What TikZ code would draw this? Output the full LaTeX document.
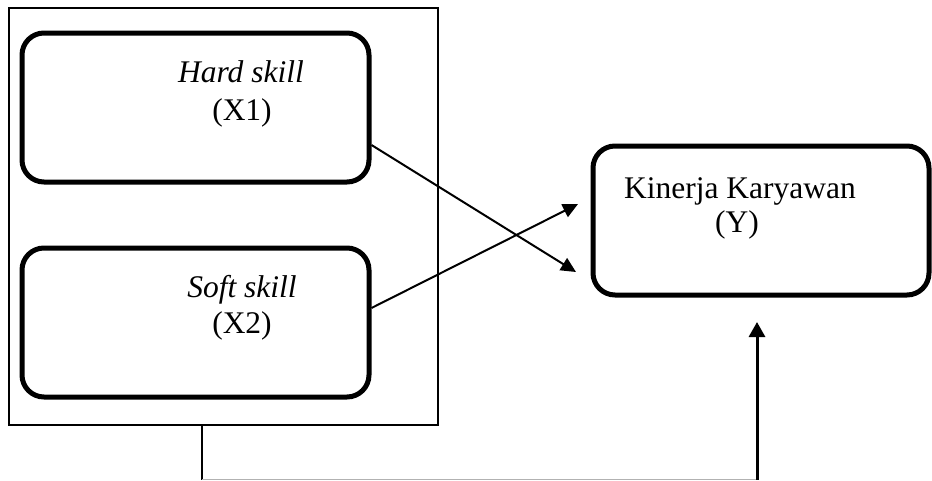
\documentclass[tikz,border=0pt]{standalone}
\usepackage{fontspec}
\setmainfont{Liberation Serif}
\usetikzlibrary{arrows.meta}
\begin{document}
\begin{tikzpicture}[x=1pt,y=-1pt,
  varbox/.style={draw,line width=5pt,rounded corners=22pt,minimum width=347pt,minimum height=149pt,inner sep=0pt},
  lbl/.style={inner sep=0pt,anchor=base,font=\fontsize{31.5}{37}\selectfont},
  link/.style={line width=2pt,-{Triangle[length=15pt,width=14pt]}}]
  \useasboundingbox (0,0) rectangle (932,480);
  % frame around both independent variables
  \node[draw,line width=1.5pt,minimum width=429pt,minimum height=417pt,inner sep=0pt,outer sep=0pt] (frame) at (223.5,216.5) {};
  % variable boxes
  \node[varbox] (x1) at (195.5,107.5) {};
  \node[varbox] (x2) at (195.5,322.5) {};
  \node[varbox,minimum width=336pt] (y) at (761,220.5) {};
  % labels
  \node[lbl] (x1a) at (241,82) {\itshape Hard skill};
  \node[lbl] (x1b) at (242,120) {(X1)};
  \node[lbl] (x2a) at (242,297) {\itshape Soft skill};
  \node[lbl] (x2b) at (242,333) {(X2)};
  \node[lbl] (ya) at (740,198) {Kinerja Karyawan};
  \node[lbl] (yb) at (737,232) {(Y)};
  % crossing arrows towards Y
  \coordinate (tipA) at (576,272);
  \coordinate (tipB) at (578,204);
  \draw[link] ([yshift=-37.5pt]x1.east) -- (tipA);
  \draw[link] ([yshift=14.5pt]x2.east) -- (tipB);
  % joint effect from the frame to Y
  \coordinate (b1) at (202,425);
  \coordinate (b2) at (202,479.5);
  \coordinate (b3) at (757,479.5);
  \coordinate (tipC) at (757,322);
  \draw[line width=2pt] (b1) -- (b2);
  \draw[line width=1pt,gray!60] (b2) -- (b3);
  \draw[line width=3pt,-{Triangle[length=15pt,width=16pt]}] (b3) -- (tipC);
\end{tikzpicture}
\end{document}
